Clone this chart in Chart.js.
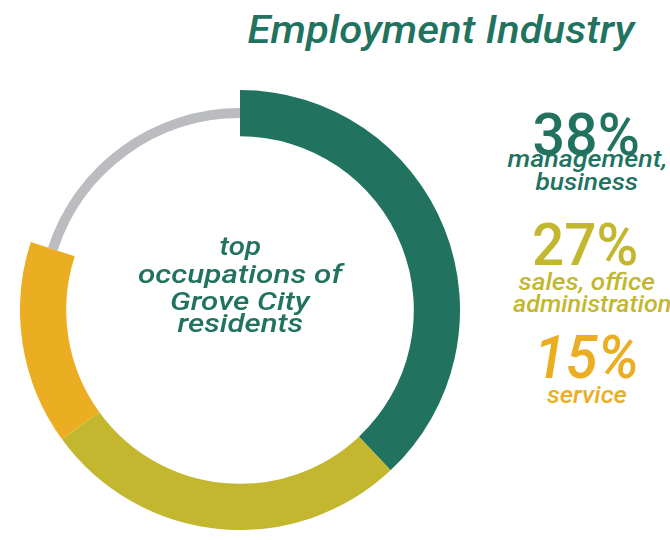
<!DOCTYPE html>
<html>
<head>
<meta charset="utf-8">
<script src="https://cdn.jsdelivr.net/npm/chart.js@4/dist/chart.umd.min.js"></script>
<style>
  html, body { margin: 0; padding: 0; background: #ffffff; }
  #page { position: relative; width: 670px; height: 540px; overflow: hidden; background: #fff; }
  #chartBox { position: absolute; left: 20px; top: 90px; width: 440px; height: 440px; }
  .lbl { position: absolute; white-space: nowrap; font-family: Roboto, "Liberation Sans", sans-serif; transform-origin: 50% 50%; }
</style>
</head>
<body>
<div id="page">
  <div id="chartBox"><canvas id="c" width="440" height="440"></canvas></div>
</div>
<script>
// ---- data ----
const categories = ['management, business', 'sales, office administration', 'service', 'other'];
const values = [38, 27, 15, 20];
const labelLines = [['management,', 'business'], ['sales, office', 'administration'], ['service'], []];
const titleText = 'Employment Industry';
const centerLines = ['top', 'occupations of', 'Grove City', 'residents'];

// ---- styles ----
const GREEN = '#21735F', OLIVE = '#C2B72F', ORANGE = '#EBAE22', GRAY = '#BBBCC0';
const segColors = [GREEN, OLIVE, ORANGE, GRAY];

const thinGray = {
  id: 'thinGray',
  beforeDatasetsDraw(chart) {
    const meta = chart.getDatasetMeta(0);
    const arc = meta.data[3];
    if (!arc) return;
    const mid = (arc.outerRadius + arc.innerRadius) / 2;
    arc.outerRadius = mid + 5;
    arc.innerRadius = mid - 5;
  }
};

new Chart(document.getElementById('c'), {
  type: 'doughnut',
  data: {
    labels: categories,
    datasets: [{ data: values, backgroundColor: segColors, borderWidth: 0, hoverOffset: 0 }]
  },
  options: {
    responsive: false,
    animation: false,
    cutout: '79%',
    layout: { padding: 0 },
    plugins: { legend: { display: false }, tooltip: { enabled: false } }
  },
  plugins: [thinGray]
});

// ---- text layout ----
const page = document.getElementById('page');
function place(text, cx, baseline, size, width, color, weight, italic) {
  const d = document.createElement('div');
  d.className = 'lbl';
  d.style.fontSize = size + 'px';
  d.style.lineHeight = size + 'px';
  d.style.fontWeight = weight;
  d.style.fontStyle = italic ? 'italic' : 'normal';
  d.style.color = color;
  d.textContent = text;
  const m = document.createElement('span');
  m.style.cssText = 'display:inline-block;width:0;height:0;vertical-align:baseline';
  d.appendChild(m);
  page.appendChild(d);
  const w = d.offsetWidth;
  const b = m.offsetTop;
  d.style.left = (cx - w / 2) + 'px';
  d.style.top = (baseline - b) + 'px';
  if (width) d.style.transform = 'scaleX(' + (width / w) + ')';
}

place(titleText, 441, 43, 39, 387, GREEN, 500, true);

place(values[0] + '%', 586, 155, 60, 107, GREEN, 500, false);
place(labelLines[0][0], 587, 167, 23, 160, GREEN, 500, true);
place(labelLines[0][1], 586, 190, 23, 102, GREEN, 500, true);

place(values[1] + '%', 585, 265, 60, 106, OLIVE, 500, false);
place(labelLines[1][0], 587, 290, 23, 137, OLIVE, 500, true);
place(labelLines[1][1], 592, 312, 23, 158, OLIVE, 500, true);

place(values[2] + '%', 586, 378, 60, 105, ORANGE, 500, true);
place(labelLines[2][0], 587, 403, 23, 80, ORANGE, 500, true);

place(centerLines[0], 240, 255, 26, 42, GREEN, 500, true);
place(centerLines[1], 240, 283, 26, 204, GREEN, 500, true);
place(centerLines[2], 240, 310, 26, 140, GREEN, 500, true);
place(centerLines[3], 240, 332, 26, 126, GREEN, 500, true);
</script>
</body>
</html>
